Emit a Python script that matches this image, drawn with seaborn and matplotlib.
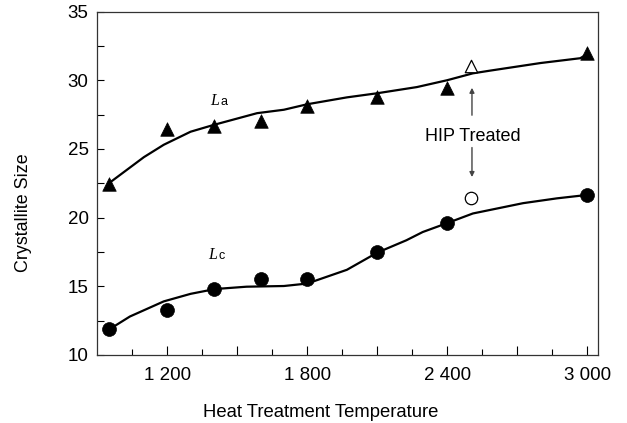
import matplotlib
matplotlib.use("Agg")
import matplotlib.pyplot as plt
import seaborn as sns

# measured points
temp_pts = [950, 1200, 1400, 1600, 1800, 2100, 2400, 3000]
la_vals = [22.45, 26.45, 26.65, 27.0, 28.15, 28.75, 29.45, 31.95]
lc_vals = [11.9, 13.25, 14.8, 15.5, 15.55, 17.5, 19.6, 21.65]

# HIP treated samples
hip_temp = [2500]
hip_la = [31.0]
hip_lc = [21.4]

# fitted curves
la_curve_x = [950, 1100, 1185, 1300, 1400, 1585, 1700, 1800, 1970, 2100, 2270, 2400, 2510, 2585, 2800, 2970, 3000]
la_curve_y = [22.5, 24.4, 25.3, 26.25, 26.75, 27.6, 27.85, 28.25, 28.75, 29.05, 29.5, 30.0, 30.5, 30.7, 31.25, 31.6, 31.9]
lc_curve_x = [955, 1040, 1185, 1300, 1405, 1540, 1700, 1800, 1970, 2100, 2225, 2295, 2400, 2510, 2725, 2870, 3000]
lc_curve_y = [11.9, 12.8, 13.9, 14.45, 14.8, 14.97, 15.02, 15.2, 16.2, 17.45, 18.35, 18.95, 19.6, 20.3, 21.05, 21.4, 21.65]

xmajor = [1200, 1500, 1800, 2100, 2400, 2700, 3000]
xminor = [1050, 1350, 1650, 1950, 2250, 2550, 2850]
xtick_txt = {1200: "1 200", 1800: "1 800", 2400: "2 400", 3000: "3 000"}

sns.set_theme(style="white")
plt.rcParams["font.family"] = ["Liberation Sans", "DejaVu Sans"]
plt.rcParams["text.color"] = "black"
plt.rcParams["axes.labelcolor"] = "black"
plt.rcParams["xtick.color"] = "black"
plt.rcParams["ytick.color"] = "black"

fig = plt.figure(figsize=(6.27, 4.23), dpi=100)
ax = fig.add_axes([0.1547, 0.1608, 0.799, 0.812])

sns.lineplot(x=la_curve_x, y=la_curve_y, sort=False, color="black", lw=1.6, ax=ax)
sns.lineplot(x=lc_curve_x, y=lc_curve_y, sort=False, color="black", lw=1.6, ax=ax)

sns.scatterplot(x=temp_pts, y=la_vals, marker="^", s=95, color="black", edgecolor="black", linewidth=0.5, ax=ax, zorder=3)
sns.scatterplot(x=temp_pts, y=lc_vals, marker="o", s=100, color="black", edgecolor="black", linewidth=0.5, ax=ax, zorder=3)
sns.scatterplot(x=hip_temp, y=hip_la, marker="^", s=80, facecolor="white", edgecolor="black", linewidth=0.9, ax=ax, zorder=3)
sns.scatterplot(x=hip_temp, y=hip_lc, marker="o", s=80, facecolor="white", edgecolor="black", linewidth=0.9, ax=ax, zorder=3)

# HIP annotation
ax.text(2508, 25.9, "HIP Treated", ha="center", va="center", fontsize=13)
ax.annotate("", xy=(2506, 29.65), xytext=(2506, 27.25),
            arrowprops=dict(arrowstyle="-|>", color="#444444", lw=1.0, mutation_scale=7))
ax.annotate("", xy=(2506, 22.75), xytext=(2506, 25.3),
            arrowprops=dict(arrowstyle="-|>", color="#444444", lw=1.0, mutation_scale=7))

# curve labels
ax.text(1383, 28.2, "L", family="Liberation Serif", style="italic", fontsize=11.5, va="baseline")
ax.text(1428, 28.2, "a", fontsize=9, va="baseline")
ax.text(1374, 16.97, "L", family="Liberation Serif", style="italic", fontsize=11.5, va="baseline")
ax.text(1420, 16.97, "c", fontsize=9, va="baseline")

ax.set_xlim(899, 3046)
ax.set_ylim(10, 35)
ax.set_xticks(xmajor)
ax.set_xticklabels([xtick_txt.get(t, "") for t in xmajor], fontsize=13.5)
ax.set_xticks(xminor, minor=True)
ax.tick_params(axis="x", which="major", direction="in", length=6.5, width=0.8, bottom=True, pad=9)
ax.tick_params(axis="x", which="minor", direction="in", length=4, width=0.8, bottom=True)
ax.set_yticks([10, 15, 20, 25, 30, 35])
ax.set_yticks([12.5, 17.5, 22.5, 27.5, 32.5], minor=True)
ax.tick_params(axis="y", which="both", direction="in", length=5, width=0.8, left=True, labelsize=13.5, pad=6)

for sp in ax.spines.values():
    sp.set_color("#333333")
    sp.set_linewidth(0.9)

ax.set_xlabel("Heat Treatment Temperature", fontsize=13.3, va="top")
ax.xaxis.set_label_coords(0.446, -0.143)
ax.set_ylabel("Crystallite Size", fontsize=12.9)
ax.yaxis.set_label_coords(-0.129, 0.415)

fig.savefig("out.png", dpi=100)
